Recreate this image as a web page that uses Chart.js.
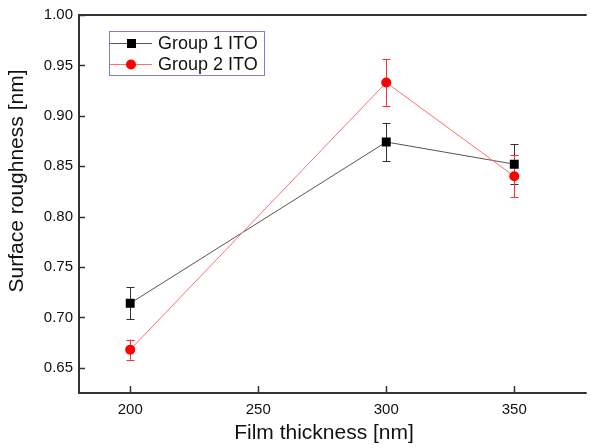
<!DOCTYPE html>
<html>
<head>
<meta charset="utf-8">
<script src="https://cdn.jsdelivr.net/npm/chart.js@4/dist/chart.umd.min.js"></script>
<style>
  html, body { margin: 0; padding: 0; background: #ffffff; }
  #wrap { width: 591px; height: 448px; }
</style>
</head>
<body>
<div id="wrap"><canvas id="c" width="591" height="448"></canvas></div>
<script>
const thickness = [200, 300, 350];
const group1 = [0.714, 0.874, 0.852];
const group1Err = [0.016, 0.019, 0.020];
const group2 = [0.668, 0.933, 0.840];
const group2Err = [0.010, 0.023, 0.021];
const xTicks = [200, 250, 300, 350];
const yTicks = [0.65, 0.70, 0.75, 0.80, 0.85, 0.90, 0.95, 1.00];
const seriesNames = ['Group 1 ITO', 'Group 2 ITO'];
const xTitle = 'Film thickness [nm]';
const yTitle = 'Surface roughness [nm]';

const FONT = '"Liberation Sans", Arial, sans-serif';

const errs = [group1Err, group2Err];
const errColors = ['#333333', '#ff3030'];

const decorPlugin = {
  id: 'decor',
  beforeDatasetsDraw(chart) {
    const ctx = chart.ctx;
    const xs = chart.scales.x, ys = chart.scales.y;
    chart.data.datasets.forEach((ds, i) => {
      ctx.save();
      ctx.strokeStyle = errColors[i];
      ctx.lineWidth = 1;
      ds.data.forEach((p, j) => {
        const e = errs[i][j];
        const px = Math.round(xs.getPixelForValue(p.x)) + 0.5;
        const top = ys.getPixelForValue(p.y + e);
        const bot = ys.getPixelForValue(p.y - e);
        ctx.beginPath();
        ctx.moveTo(px, top); ctx.lineTo(px, bot);
        ctx.moveTo(px - 4, Math.round(top) + 0.5); ctx.lineTo(px + 4, Math.round(top) + 0.5);
        ctx.moveTo(px - 4, Math.round(bot) + 0.5); ctx.lineTo(px + 4, Math.round(bot) + 0.5);
        ctx.stroke();
      });
      ctx.restore();
    });
  },
  afterDraw(chart) {
    const ctx = chart.ctx;
    const a = chart.chartArea;
    const xs = chart.scales.x, ys = chart.scales.y;
    ctx.save();
    // frame lines: top, left, bottom
    ctx.strokeStyle = '#333333';
    ctx.lineWidth = 2;
    ctx.beginPath();
    ctx.moveTo(a.left, a.top); ctx.lineTo(a.right + 2, a.top);
    ctx.moveTo(a.left, a.top - 1); ctx.lineTo(a.left, a.bottom + 1);
    ctx.moveTo(a.left - 1, a.bottom); ctx.lineTo(a.right + 2, a.bottom);
    ctx.stroke();
    // inward ticks
    ctx.lineWidth = 1.5;
    ctx.beginPath();
    xs.ticks.forEach(t => {
      const px = Math.round(xs.getPixelForValue(t.value)) + 0.5;
      ctx.moveTo(px, a.bottom); ctx.lineTo(px, a.bottom - 7);
    });
    ys.ticks.forEach(t => {
      const py = Math.round(ys.getPixelForValue(t.value)) + 0.5;
      ctx.moveTo(a.left, py); ctx.lineTo(a.left + 6, py);
    });
    ctx.stroke();

    // axis titles
    ctx.fillStyle = '#111111';
    ctx.font = '21px ' + FONT;
    ctx.textAlign = 'center';
    ctx.textBaseline = 'middle';
    ctx.fillText(xTitle, 324, 433);
    ctx.save();
    ctx.translate(17, 181);
    ctx.rotate(-Math.PI / 2);
    ctx.fillText(yTitle, 0, 0);
    ctx.restore();

    // legend
    const lx = 109.5, ly = 31.5, lw = 155, lh = 44;
    ctx.fillStyle = '#ffffff';
    ctx.fillRect(lx, ly, lw, lh);
    ctx.strokeStyle = '#7b7be0';
    ctx.lineWidth = 1;
    ctx.strokeRect(lx, ly, lw, lh);
    const rows = [43, 64];
    chart.data.datasets.forEach((ds, i) => {
      const y = rows[i] + 0.5;
      ctx.strokeStyle = ds.borderColor;
      ctx.lineWidth = 1;
      ctx.beginPath();
      ctx.moveTo(110, y); ctx.lineTo(152, y);
      ctx.stroke();
      ctx.fillStyle = ds.pointBackgroundColor;
      if (ds.pointStyle === 'rect') {
        ctx.fillRect(127, y - 4.5, 9, 9);
      } else {
        ctx.beginPath();
        ctx.arc(131, y, 5, 0, Math.PI * 2);
        ctx.fill();
      }
      ctx.fillStyle = '#111111';
      ctx.font = '18px ' + FONT;
      ctx.textAlign = 'left';
      ctx.textBaseline = 'middle';
      ctx.fillText(seriesNames[i], 158, y + 1);
    });
    ctx.restore();
  }
};

new Chart(document.getElementById('c'), {
  type: 'line',
  data: {
    datasets: [
      {
        label: seriesNames[0],
        data: thickness.map((x, i) => ({ x: x, y: group1[i] })),
        borderColor: '#555555',
        borderWidth: 1,
        pointStyle: 'rect',
        pointRadius: 6.3,
        pointBackgroundColor: '#000000',
        pointBorderColor: '#000000',
        pointBorderWidth: 0,
        order: 1
      },
      {
        label: seriesNames[1],
        data: thickness.map((x, i) => ({ x: x, y: group2[i] })),
        borderColor: '#ff7070',
        borderWidth: 1,
        pointStyle: 'circle',
        pointRadius: 5,
        pointBackgroundColor: '#ff0000',
        pointBorderColor: '#ff0000',
        pointBorderWidth: 0,
        order: 0
      }
    ]
  },
  options: {
    responsive: false,
    animation: false,
    events: [],
    layout: { padding: { top: 13, right: 1, left: 0, bottom: 0 } },
    plugins: { legend: { display: false }, tooltip: { enabled: false } },
    scales: {
      x: {
        type: 'linear',
        min: 180,
        max: 377.5,
        afterBuildTicks: s => { s.ticks = xTicks.map(v => ({ value: v })); },
        afterFit: s => { s.height = 55; },
        grid: { display: false, drawTicks: false },
        border: { display: false },
        ticks: {
          padding: 8,
          color: '#111111',
          font: { family: FONT, size: 15 },
          callback: v => String(v)
        }
      },
      y: {
        type: 'linear',
        min: 0.625,
        max: 1.0,
        afterBuildTicks: s => { s.ticks = yTicks.map(v => ({ value: v })); },
        afterFit: s => { s.width = 79; },
        grid: { display: false, drawTicks: false },
        border: { display: false },
        ticks: {
          padding: 6,
          color: '#111111',
          font: { family: FONT, size: 15 },
          callback: v => Number(v).toFixed(2)
        }
      }
    }
  },
  plugins: [decorPlugin]
});
</script>
</body>
</html>
